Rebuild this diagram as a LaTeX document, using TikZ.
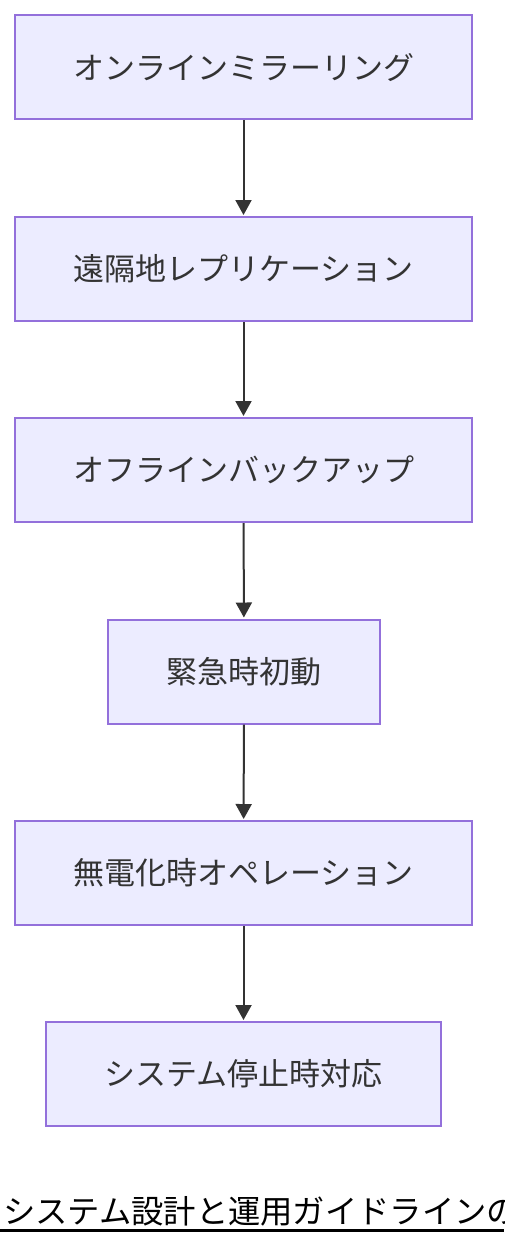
\documentclass[tikz,border=0pt]{standalone}
\usepackage{fontspec}
\setmainfont{Noto Sans CJK JP}
\usetikzlibrary{arrows.meta}
\definecolor{boxfill}{HTML}{ECECFF}
\definecolor{boxline}{HTML}{9370DB}
\definecolor{edgecol}{HTML}{333333}
\tikzset{
  flowbox/.style={draw=boxline, fill=boxfill, line width=2pt, minimum height=104pt, text=edgecol, inner sep=0pt, font=\fontsize{31}{36}\selectfont},
  flowedge/.style={draw=edgecol, line width=2pt, -{Triangle[length=15pt,width=16pt]}, shorten >=1pt},
}
\begin{document}
\begin{tikzpicture}[x=1pt,y=-1pt]
\useasboundingbox (0,0) rectangle (504,1244);
\clip (0,0) rectangle (504,1244);
\fill[white] (0,0) rectangle (504,1244);
\node[flowbox, minimum width=457pt] (a) at (243.5,67.5) {オンラインミラーリング};
\node[flowbox, minimum width=457pt] (b) at (243.5,269) {遠隔地レプリケーション};
\node[flowbox, minimum width=457pt] (c) at (243.5,470) {オフラインバックアップ};
\node[flowbox, minimum width=272pt] (d) at (244,671.5) {緊急時初動};
\node[flowbox, minimum width=457pt] (e) at (243.5,873) {無電化時オペレーション};
\node[flowbox, minimum width=395pt] (f) at (243.5,1074) {システム停止時対応};
\draw[flowedge] (a) -- (b);
\draw[flowedge] (b) -- (c);
\draw[flowedge] (c) -- (d);
\draw[flowedge] (d) -- (e);
\draw[flowedge] (e) -- (f);
\node[anchor=base west, inner sep=0pt, text=black, font=\fontsize{32.3}{37}\selectfont] (title) at (3,1223) {システム設計と運用ガイドラインの};
\draw[black, line width=3pt] (0,1230) -- (504,1230);
\end{tikzpicture}
\end{document}
